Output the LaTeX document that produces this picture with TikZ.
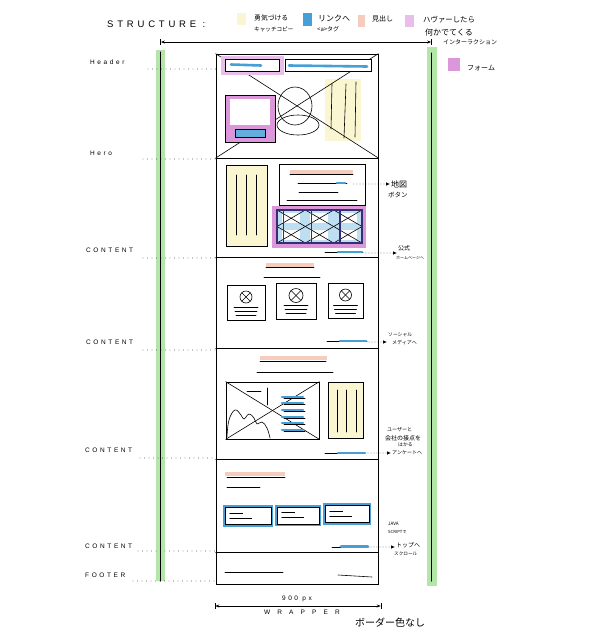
\documentclass[tikz,border=0pt]{standalone}
\usepackage{fontspec}
\usepackage{xcolor}
\usepackage{tikz}
\usetikzlibrary{arrows.meta, positioning, calc}
\setmainfont{Liberation Sans}
\newfontfamily\sketchfont[LetterSpace=40]{Liberation Sans}
\newfontfamily\widefont[LetterSpace=110]{Liberation Sans}
\newfontfamily\jpfont{Noto Sans CJK JP}
\newcommand{\capsize}[1]{\sketchfont\fontsize{#1}{#1}\selectfont}
\newcommand{\jpsize}[1]{\jpfont\fontsize{#1}{#1}\selectfont}
\definecolor{railGreen}{RGB}{180,230,170}
\definecolor{ideaYellow}{RGB}{250,246,210}
\definecolor{linkBlue}{RGB}{70,160,215}
\definecolor{headSalmon}{RGB}{246,204,190}
\definecolor{hoverPink}{RGB}{234,190,234}
\definecolor{formPink}{RGB}{220,150,218}
\definecolor{inkNavy}{RGB}{55,45,115}
\tikzset{
  wireline/.style={line width=0.6pt, line cap=round, line join=round},
  wirebox/.style={
    rectangle, draw, fill=white, line width=0.6pt, inner sep=0pt
  },
  rail/.style={rectangle, fill=railGreen, minimum width=9.5pt, inner sep=0pt},
  guideline/.style={line width=0.9pt, line cap=round, dash pattern=on 0pt off 4.5pt},
  notearrow/.style={
    line width=0.7pt, line cap=round, dash pattern=on 0pt off 3pt,
    -{Latex[length=4pt, width=3.5pt]}
  },
  dimline/.style={line width=0.6pt, >={Stealth[length=4pt, width=3pt]}, |<->|},
  sectionlabel/.style={anchor=west, inner sep=0pt, font=\capsize{6.5}},
  note/.style={anchor=west, inner sep=1pt},
  swatch/.style={rectangle, minimum width=9pt, minimum height=12pt, inner sep=0pt},
  linkmark/.style={line width=2.6pt, draw=linkBlue, line cap=round},
  headmark/.style={line width=4pt, draw=headSalmon},
  featurecard/.style={
    rectangle, draw, fill=white, line width=0.7pt, inner sep=0pt,
    minimum height=17pt, preaction={draw=linkBlue, line width=4.5pt}
  }
}

\begin{document}
\begin{tikzpicture}[x=1pt, y=-1pt]
  \useasboundingbox (0,0) rectangle (596,638);

  \node[sectionlabel, font=\capsize{9.5}] (structLbl) at (107,24) {STRUCTURE :};
  \node[swatch, fill=ideaYellow] (swatchCopy) at (241,19) {};
  \node[note, font=\jpsize{6.8}] (legCopyA) at (253,18) {勇気づける};
  \node[note, font=\jpsize{5.6}] (legCopyB) at (253,29) {キャッチコピー};
  \node[swatch, fill=linkBlue, minimum height=13pt] (swatchLink) at (307.5,19) {};
  \node[note, font=\jpsize{8}] (legLinkA) at (317,18) {リンクへ};
  \node[note, font=\jpsize{6}] (legLinkB) at (316,29) {<a>タグ};
  \node[swatch, fill=headSalmon, minimum width=7pt] (swatchHead) at (361.5,21) {};
  \node[note, font=\jpsize{7}] (legHead) at (371,19) {見出し};
  \node[swatch, fill=hoverPink] (swatchHover) at (409.5,21) {};
  \node[note, font=\jpsize{7.4}] (legHoverA) at (422,20) {ハヴァーしたら};
  \node[note, font=\jpsize{8}] (legHoverB) at (424,32) {何かでてくる};
  \node[note, font=\jpsize{6}] (legHoverC) at (442,42) {インターラクション};
  \node[swatch, fill=formPink, minimum width=12pt, minimum height=13pt] (swatchForm) at (454,64) {};
  \node[note, font=\jpsize{7}] (legForm) at (466,68) {フォーム};

  \node[rail, minimum height=531pt] (leftRail) at (160.25,315.5) {};
  \node[rail, minimum height=539pt] (rightRail) at (431.75,316.5) {};
  \draw[wireline] (leftRail.north) ++(0,2) -- (leftRail.south) ;
  \draw[wireline] (rightRail.north) ++(0,6) -- ([yshift=5pt]rightRail.south);
  \draw[dimline] (leftRail.north |- 0,42) -- (rightRail.north |- 0,42);

  \node[wirebox, minimum width=162pt, minimum height=530pt] (wrapper) at (297,319) {};
  \foreach \sy in {158,257,348,459,552}
    \draw[wireline] (wrapper.west |- 0,\sy) -- (wrapper.east |- 0,\sy);

  \node[sectionlabel] (headerLbl) at (90,62) {Header};
  \node[sectionlabel] (heroLbl) at (90,153) {Hero};
  \node[sectionlabel] (contentLblA) at (86,250) {CONTENT};
  \node[sectionlabel] (contentLblB) at (86,342) {CONTENT};
  \node[sectionlabel] (contentLblC) at (85,450) {CONTENT};
  \node[sectionlabel] (contentLblD) at (85,546) {CONTENT};
  \node[sectionlabel] (footerLbl) at (85,575) {FOOTER};
  \foreach \gx/\gy in {148/69,143/159,143/258,143/350,140/458,138/551,133/581}
    \draw[guideline] (\gx,\gy) -- (wrapper.west |- 0,\gy);

  % header + hero
  \fill[ideaYellow] (325,79) rectangle (361,141);
  \draw[wireline] (wrapper.north west) -- (wrapper.east |- 0,158);
  \draw[wireline] (wrapper.north east) -- (wrapper.west |- 0,158);
  \draw[wireline] (295,106) ellipse [x radius=17, y radius=19];
  \draw[wireline] (298,125) ellipse [x radius=21, y radius=10];
  \draw[wireline] (332,84) -- (331,129);
  \draw[wireline] (346,84) -- (344,138);
  \draw[wireline] (356,82) -- (355,137);
  \fill[hoverPink] (221,56) rectangle (284,75);
  \node[wirebox, minimum width=54pt, minimum height=12pt] (logoBox) at (252,65) {};
  \node[wirebox, minimum width=86pt, minimum height=12pt] (navBox) at (328,65) {};
  \draw[linkmark] (231,64.5) -- (261,65.5);
  \draw[linkmark] (289,65.5) -- (367,66.5);
  \node[wirebox, fill=formPink, minimum width=50pt, minimum height=47pt] (signupBox) at (250,118.5) {};
  \fill[white] (230,99) rectangle (270,125);
  \node[wirebox, fill=linkBlue!85, minimum width=30pt, minimum height=8pt] (signupBtn) at (250,133) {};

  % content 1
  \node[wirebox, fill=ideaYellow, minimum width=41pt, minimum height=81pt] (sideNote) at (246.5,205.5) {};
  \foreach \lx in {236,246,256}
    \draw[wireline] (\lx,175) -- (\lx,235);
  \node[wirebox, minimum width=86pt, minimum height=41pt] (textBox) at (322,184.5) {};
  \draw[headmark] (290,171.5) -- (353,171.5);
  \draw[wireline] (290,174) -- (353,174);
  \draw[wireline] (298,183) -- (347,183);
  \draw[linkmark] (337,183) -- (345,183);
  \draw[wireline] (299,192) -- (338,192);
  \draw[wireline] (287,200) -- (357,200);
  \fill[formPink] (272,206) rectangle (366,248);
  \fill[linkBlue!35] (277,210) rectangle (362,243);
  \foreach \cx in {277,305.33,333.67}
    \foreach \cy in {210,226.5} {
      \fill[white] ({\cx+5},{\cy+3}) rectangle ({\cx+23},{\cy+13});
      \draw[wireline] (\cx,\cy) -- ({\cx+28.33},{\cy+16.5});
      \draw[wireline] ({\cx+28.33},\cy) -- (\cx,{\cy+16.5});
    }
  \draw[inkNavy, line width=1.3pt] (277,210) grid[xstep=28.33, ystep=16.5] (362,243);
  \draw[inkNavy, line width=1.3pt] (277,210) rectangle (362,243);
  \draw[wireline] (325,252) -- (363,252);
  \draw[linkmark] (338,252) -- (362,252);
  \coordinate (mapLink) at (354,184);
  \coordinate (officialLink) at (366,253);

  % content 2
  \draw[headmark] (266,264.5) -- (314,264.5);
  \draw[wireline] (266,267) -- (314,267);
  \draw[wireline] (264,277) -- (320,277);
  \node[wirebox, minimum width=38pt, minimum height=35pt] (cardA) at (246,302.5) {};
  \node[wirebox, minimum width=40pt, minimum height=36pt] (cardB) at (296,301) {};
  \node[wirebox, minimum width=35pt, minimum height=35pt] (cardC) at (345.5,300.5) {};
  \foreach \card/\r in {cardA/6,cardB/7,cardC/6} {
    \draw[wireline] ([yshift=5.5pt]\card.center) circle (\r pt);
    \draw[wireline] ([shift={(-0.7*\r pt,0.7*\r pt+5.5pt)}]\card.center) -- ([shift={(0.7*\r pt,-0.7*\r pt+5.5pt)}]\card.center);
    \draw[wireline] ([shift={(-0.7*\r pt,-0.7*\r pt+5.5pt)}]\card.center) -- ([shift={(0.7*\r pt,0.7*\r pt+5.5pt)}]\card.center);
    \draw[wireline] ([shift={(-12pt,-4.5pt)}]\card.center) -- ++(24pt,0);
    \draw[wireline] ([shift={(-11pt,-8.5pt)}]\card.center) -- ++(22pt,0);
    \draw[wireline] ([shift={(-10pt,-12.5pt)}]\card.center) -- ++(20pt,0);
  }
  \draw[wireline] (327,341) -- (367,341);
  \draw[linkmark] (340,341) -- (366,341);
  \coordinate (socialLink) at (369,342);

  % content 3
  \draw[headmark] (260,357.5) -- (327,357.5);
  \draw[wireline] (260,361) -- (326,361);
  \draw[wireline] (257,372) -- (333,372);
  \node[wirebox, minimum width=93pt, minimum height=57pt] (photoBox) at (272.5,410.5) {};
  \draw[wireline] (photoBox.north west) -- (photoBox.south east);
  \draw[wireline] (photoBox.north east) -- (photoBox.south west);
  \draw[wireline] (247,391) -- (261,391);
  \draw[wireline] (267,388) -- (267,405);
  \foreach \ty in {397,403,410,417,423,430} {
    \draw[linkmark] (282,\ty) -- (303,\ty);
    \draw[wireline] (284,{\ty+1}) -- (305,{\ty+1});
  }
  \draw[wireline] plot[smooth, tension=0.7] coordinates {(227,437) (229,420) (235,410) (241,415) (244,419) (249,414) (254,418) (257,424) (262,422) (267,428) (270,438)};
  \node[wirebox, fill=ideaYellow, minimum width=35pt, minimum height=56pt] (sidePanel) at (345.5,410) {};
  \foreach \lx in {337,346,356}
    \draw[wireline] (\lx,390) -- (\lx,432);
  \draw[wireline] (325,453) -- (365,453);
  \draw[linkmark] (338,453) -- (365,453);
  \coordinate (surveyLink) at (368,453);

  % content 4
  \draw[headmark] (225,473.5) -- (285,473.5);
  \draw[wireline] (227,477) -- (285,477);
  \draw[wireline] (227,487) -- (260,487);
  \node[featurecard, minimum width=46pt] (featureA) at (248,516) {};
  \node[featurecard, minimum width=42pt] (featureB) at (298,515.5) {};
  \node[featurecard, minimum width=44pt] (featureC) at (347,514) {};
  \foreach \card in {featureA,featureB,featureC} {
    \draw[wireline] ([shift={(5pt,3pt)}]\card.west) -- ++(13pt,0);
    \draw[wireline] ([shift={(5pt,-2pt)}]\card.west) -- ++(22pt,0);
  }
  \draw[wireline] (332,547) -- (368,547);
  \draw[linkmark] (341,546.5) -- (368,546.5);
  \coordinate (topLink) at (371,547);

  % footer
  \draw[wireline] (225,572) -- (283,572);
  \draw[wireline] (338,575) -- (372,577);

  % notes
  \node[note, font=\jpsize{8}] (mapNote) at (390,184) {地図};
  \node[note, font=\jpsize{6.5}] (mapNoteSub) at (387,195) {ボタン};
  \node[note, font=\jpsize{6}] (officialNote) at (397,248) {公式};
  \node[note, font=\jpsize{4}] (officialNoteSub) at (395,258) {ホームページへ};
  \node[note, font=\jpsize{4.8}] (socialNote) at (387,335) {ソーシャル};
  \node[note, font=\jpsize{5}] (socialNoteSub) at (391,343) {メディアへ};
  \node[note, font=\jpsize{5}] (surveyNoteA) at (386,430) {ユーザーと};
  \node[note, font=\jpsize{6}] (surveyNoteB) at (384,438) {会社の接点を};
  \node[note, font=\jpsize{4.8}] (surveyNoteC) at (397,445) {はかる};
  \node[note, font=\jpsize{5}] (surveyNote) at (391,453) {アンケートへ};
  \node[note, font=\jpsize{4.6}] (jsNoteA) at (387,524) {JAVA};
  \node[note, font=\jpsize{4.2}] (jsNoteB) at (387,532) {SCRIPTで};
  \node[note, font=\jpsize{6}] (topNote) at (395,545) {トップへ};
  \node[note, font=\jpsize{4.6}] (topNoteSub) at (393,554) {スクロール};
  \draw[notearrow] (mapLink) -- (mapLink -| mapNote.west);
  \draw[notearrow] (officialLink) -- (officialLink -| officialNote.west);
  \draw[notearrow] (socialLink) -- (socialLink -| socialNote.west);
  \draw[notearrow] (surveyLink) -- (surveyLink -| surveyNote.west);
  \draw[notearrow] (topLink) -- (topLink -| topNote.west);

  % width
  \draw[dimline] ([xshift=-1pt]wrapper.south west |- 0,606) -- ([xshift=3pt]wrapper.south east |- 0,606);
  \node[font=\capsize{6.5}] (wrapWidth) at (297,599) {900 px};
  \node[font=\widefont\fontsize{6.5}{7}\selectfont] (wrapName) at (302,612) {WRAPPER};
  \node[note, font=\jpsize{10}] (borderNote) at (354,623) {ボーダー色なし};
\end{tikzpicture}
\end{document}
